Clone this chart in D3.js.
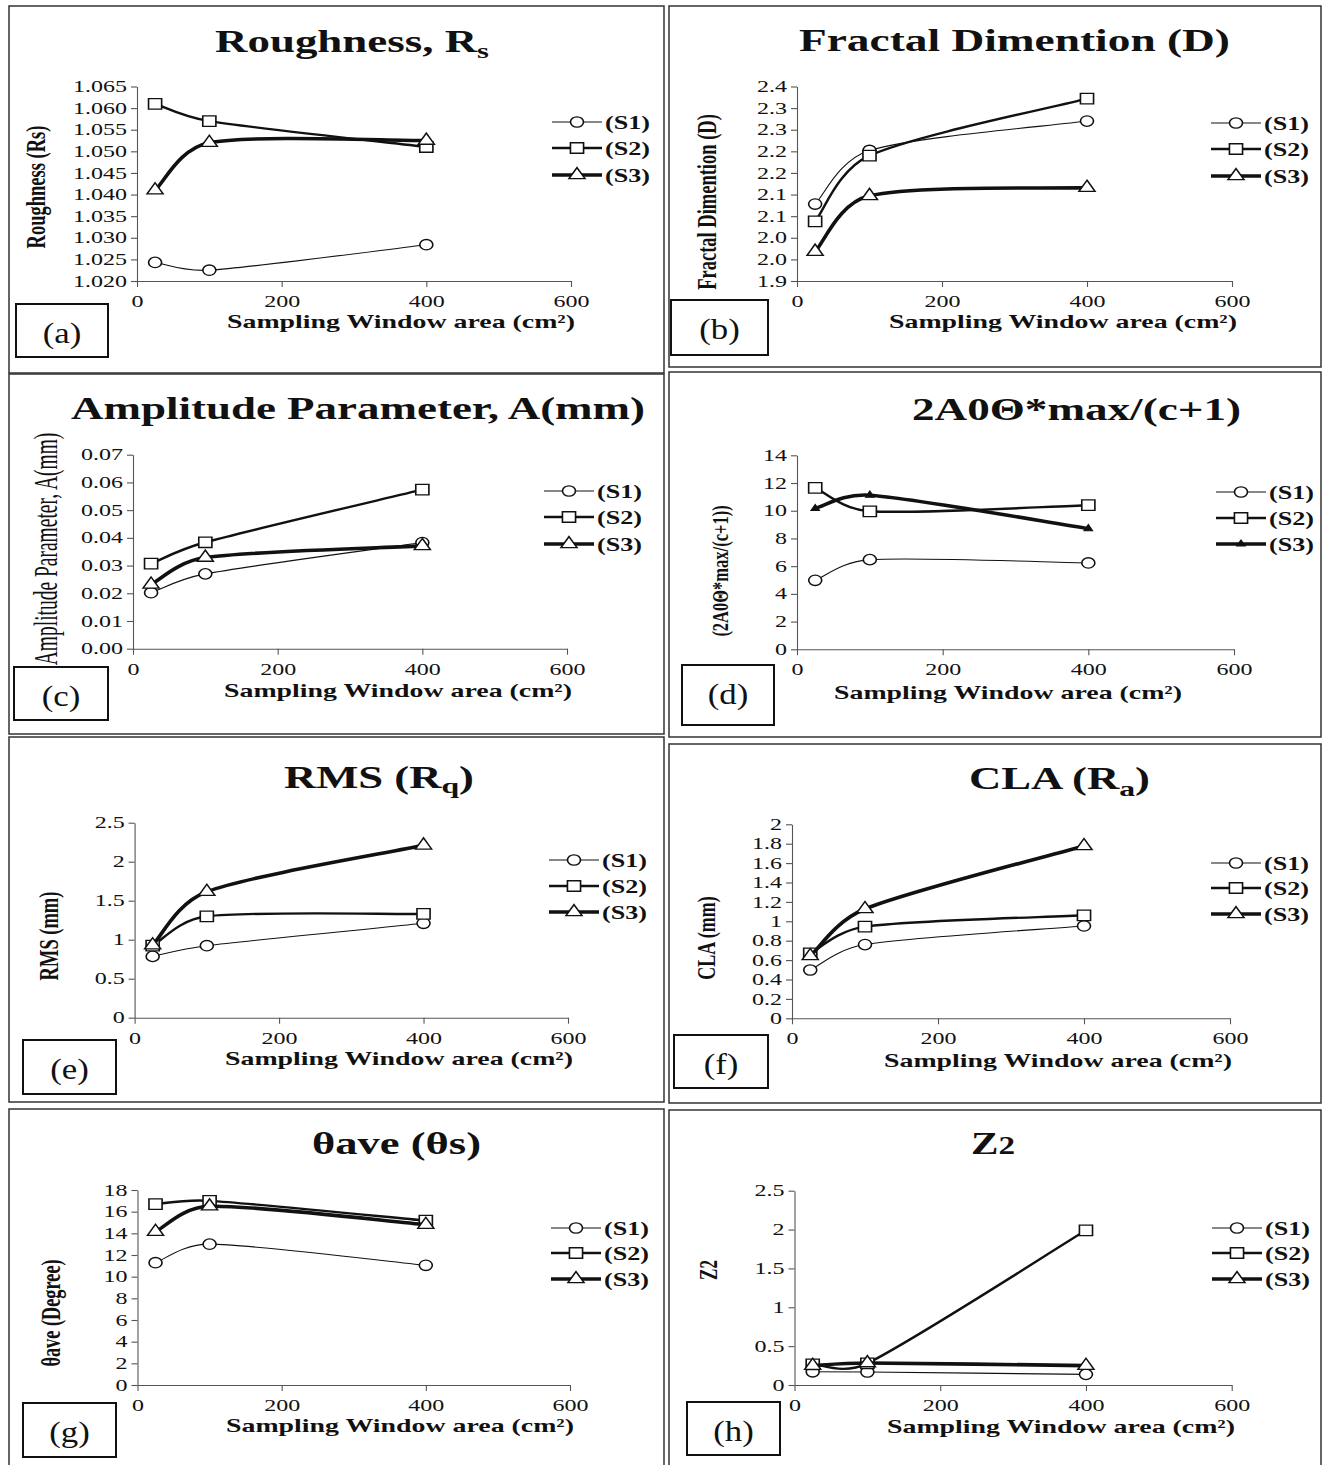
<!DOCTYPE html>
<html>
<head>
<meta charset="utf-8">
<script src="https://cdn.jsdelivr.net/npm/d3@7"></script>
<style>
  body { margin: 0; background: #fff; }
  svg text { font-family: "Liberation Serif", "Times New Roman", serif; fill: #111; }
</style>
</head>
<body>
<div id="chart"></div>
<script>
// shared categories
const areas = [25, 100, 400];
const seriesNames = ["(S1)", "(S2)", "(S3)"];
const xTicks = [0, 200, 400, 600];
const xTitle = "Sampling Window area (cm\u00b2)";

// (a) roughness
const roughS1 = [1.0243, 1.0225, 1.0284];
const roughS2 = [1.0610, 1.0570, 1.0510];
const roughS3 = [1.0410, 1.0520, 1.0525];
const roughTicks = [1.020, 1.025, 1.030, 1.035, 1.040, 1.045, 1.050, 1.055, 1.060, 1.065];
const roughLabels = ["1.020", "1.025", "1.030", "1.035", "1.040", "1.045", "1.050", "1.055", "1.060", "1.065"];

// (b) fractal dimension
const fracS1 = [2.078, 2.202, 2.270];
const fracS2 = [2.038, 2.190, 2.322];
const fracS3 = [1.968, 2.097, 2.116];
const fracTicks = [1.9, 1.95, 2.0, 2.05, 2.1, 2.15, 2.2, 2.25, 2.3, 2.35];
const fracLabels = ["1.9", "2.0", "2.0", "2.1", "2.1", "2.2", "2.2", "2.3", "2.3", "2.4"];

// (c) amplitude parameter
const ampS1 = [0.0202, 0.0270, 0.0383];
const ampS2 = [0.0307, 0.0384, 0.0574];
const ampS3 = [0.0232, 0.0329, 0.0371];
const ampTicks = [0, 0.01, 0.02, 0.03, 0.04, 0.05, 0.06, 0.07];
const ampLabels = ["0.00", "0.01", "0.02", "0.03", "0.04", "0.05", "0.06", "0.07"];

// (d) 2A0Θ*max/(c+1)
const thmS1 = [4.98, 6.47, 6.23];
const thmS2 = [11.65, 9.96, 10.40];
const thmS3 = [10.16, 11.12, 8.71];
const thmTicks = [0, 2, 4, 6, 8, 10, 12, 14];
const thmLabels = ["0", "2", "4", "6", "8", "10", "12", "14"];

// (e) RMS
const rmsS1 = [0.786, 0.923, 1.21];
const rmsS2 = [0.923, 1.30, 1.33];
const rmsS3 = [0.93, 1.615, 2.21];
const rmsTicks = [0, 0.5, 1, 1.5, 2, 2.5];
const rmsLabels = ["0", "0.5", "1", "1.5", "2", "2.5"];

// (f) CLA
const claS1 = [0.498, 0.76, 0.952];
const claS2 = [0.67, 0.945, 1.062];
const claS3 = [0.643, 1.127, 1.777];
const claTicks = [0, 0.2, 0.4, 0.6, 0.8, 1, 1.2, 1.4, 1.6, 1.8, 2];
const claLabels = ["0", "0.2", "0.4", "0.6", "0.8", "1", "1.2", "1.4", "1.6", "1.8", "2"];

// (g) θave
const aveS1 = [11.29, 13.0, 11.05];
const aveS2 = [16.7, 17.0, 15.17];
const aveS3 = [14.15, 16.5, 14.8];
const aveTicks = [0, 2, 4, 6, 8, 10, 12, 14, 16, 18];
const aveLabels = ["0", "2", "4", "6", "8", "10", "12", "14", "16", "18"];

// (h) Z2
const z2S1 = [0.17, 0.167, 0.137];
const z2S2 = [0.266, 0.279, 1.99];
const z2S3 = [0.249, 0.283, 0.249];
const z2Ticks = [0, 0.5, 1, 1.5, 2, 2.5];
const z2Labels = ["0", "0.5", "1", "1.5", "2", "2.5"];

const W = 1325, H = 1465;
const SX = 1.45;      // the source figure is stretched sideways
const SXT = 1.5;      // tick labels
const lineW = [1.1, 2.4, 3.6];

const panels = [
  { tag: "(a)", border: [9, 6, 655, 367], x0: 137, x1: 571, yTop: 86.5, yBot: 281,
    ticks: roughTicks, labels: roughLabels, series: [roughS1, roughS2, roughS3],
    title: ["Roughness, R", "s", ""], subDy: 6, subSize: 21, titleX: 215, titleY: 52, titleW: 274,
    yTitle: "Roughness (Rs)", ytX: 45, ytY: 187, ytSize: 18.5, ytBold: true,
    xtX: 401, xtY: 328, legX: 552, legY: [122, 148, 175], box: [16, 304, 92, 53] },
  { tag: "(b)", border: [669, 6, 652, 361], x0: 797, x1: 1232, yTop: 86.5, yBot: 281,
    ticks: fracTicks, labels: fracLabels, series: [fracS1, fracS2, fracS3],
    title: ["Fractal Dimention (D)"], titleX: 799, titleY: 51, titleW: 431,
    yTitle: "Fractal Dimention (D)", ytX: 716, ytY: 202, ytSize: 18.5, ytBold: true,
    xtX: 1063, xtY: 328, legX: 1211, legY: [123, 149, 176], box: [671, 300, 97, 55] },
  { tag: "(c)", border: [9, 374, 655, 360], x0: 133, x1: 567, yTop: 454.7, yBot: 648.7,
    ticks: ampTicks, labels: ampLabels, series: [ampS1, ampS2, ampS3],
    title: ["Amplitude Parameter, A(mm)"], titleX: 71, titleY: 419, titleW: 574,
    yTitle: "Amplitude Parameter, A(mm)", ytX: 57, ytY: 549, ytSize: 19.5, ytBold: false, ytSX: 1.7,
    xtX: 398, xtY: 697, legX: 544, legY: [491, 517, 544], box: [14, 667, 94, 53] },
  { tag: "(d)", border: [669, 372, 652, 365], x0: 797, x1: 1234, yTop: 455.3, yBot: 649.3,
    ticks: thmTicks, labels: thmLabels, series: [thmS1, thmS2, thmS3], smallS3: true,
    title: ["2A0\u0398*max/(c+1)"], titleX: 912, titleY: 420, titleW: 329,
    yTitle: "(2A0\u0398*max/(c+1))", ytX: 728, ytY: 571, ytSize: 16.5, ytBold: true,
    xtX: 1008, xtY: 699, legX: 1216, legY: [492, 518, 544], box: [682, 665, 92, 60] },
  { tag: "(e)", border: [9, 737, 655, 365], x0: 134.6, x1: 568, yTop: 822.7, yBot: 1017.7,
    ticks: rmsTicks, labels: rmsLabels, series: [rmsS1, rmsS2, rmsS3],
    title: ["RMS (R", "q", ")"], subDy: 5, subSize: 22, titleX: 284, titleY: 788, titleW: 190,
    yTitle: "RMS (mm)", ytX: 58, ytY: 936, ytSize: 18.5, ytBold: true,
    xtX: 399, xtY: 1065, legX: 549, legY: [860, 886, 912], box: [23, 1040, 93, 54] },
  { tag: "(f)", border: [669, 744, 652, 359], x0: 792, x1: 1230, yTop: 824.3, yBot: 1018.3,
    ticks: claTicks, labels: claLabels, series: [claS1, claS2, claS3],
    title: ["CLA (R", "a", ")"], subDy: 7, subSize: 22, titleX: 969, titleY: 789, titleW: 181,
    yTitle: "CLA (mm)", ytX: 715, ytY: 938, ytSize: 18, ytBold: true,
    xtX: 1058, xtY: 1067, legX: 1211, legY: [863, 888, 914], box: [674, 1035, 94, 53] },
  { tag: "(g)", border: [9, 1109, 655, 370], x0: 137.5, x1: 570, yTop: 1190, yBot: 1385,
    ticks: aveTicks, labels: aveLabels, series: [aveS1, aveS2, aveS3],
    title: ["\u03b8ave (\u03b8s)"], titleX: 312, titleY: 1154, titleW: 169,
    yTitle: "\u03b8ave (Degree)", ytX: 60, ytY: 1313, ytSize: 18.3, ytBold: true,
    xtX: 400, xtY: 1432, legX: 551, legY: [1228, 1253, 1279], box: [23, 1403, 93, 54] },
  { tag: "(h)", border: [669, 1110, 652, 370], x0: 794.5, x1: 1231.7, yTop: 1190.7, yBot: 1385,
    ticks: z2Ticks, labels: z2Labels, series: [z2S1, z2S2, z2S3],
    title: ["Z", "2", ""], subDy: 0, subSize: 25, titleX: 971, titleY: 1154, titleW: 44,
    yTitle: "Z2", ytX: 717, ytY: 1270, ytSize: 17, ytBold: true,
    xtX: 1061, xtY: 1433, legX: 1212, legY: [1228, 1253, 1279], box: [687, 1402, 93, 53] }
];

// spreadsheet-style smooth line: Catmull-Rom tangents, shortened next to short segments
function smoothCurve(context) {
  let pts;
  const dist = (a, b) => Math.hypot(b[0] - a[0], b[1] - a[1]);
  return {
    areaStart() {}, areaEnd() {},
    lineStart() { pts = []; },
    point(x, y) { pts.push([+x, +y]); },
    lineEnd() {
      const n = pts.length;
      if (!n) return;
      context.moveTo(pts[0][0], pts[0][1]);
      if (n < 3) { if (n === 2) context.lineTo(pts[1][0], pts[1][1]); return; }
      const tan = pts.map((p, i) => {
        const a = pts[Math.max(i - 1, 0)], b = pts[Math.min(i + 1, n - 1)];
        return [(b[0] - a[0]) / 6, (b[1] - a[1]) / 6];
      });
      const limit = (k, seg) => {
        const prev = k > 0 ? dist(pts[k - 1], pts[k]) : seg;
        const next = k < n - 1 ? dist(pts[k], pts[k + 1]) : seg;
        return Math.min(1, Math.pow(2 * seg / (prev + next), 0.6));
      };
      for (let i = 0; i < n - 1; i++) {
        const p = pts[i], q = pts[i + 1], seg = dist(p, q);
        const f0 = limit(i, seg), f1 = limit(i + 1, seg);
        context.bezierCurveTo(
          p[0] + tan[i][0] * f0, p[1] + tan[i][1] * f0,
          q[0] - tan[i + 1][0] * f1, q[1] - tan[i + 1][1] * f1,
          q[0], q[1]);
      }
    }
  };
}

const svg = d3.select("#chart").append("svg")
  .attr("width", W).attr("height", H)
  .style("display", "block");

const symbols = [d3.symbolCircle, d3.symbolSquare, d3.symbolTriangle];
const symSize = [85, 110, 72];

function marker(g, i, x, y, small) {
  if (i === 2 && small) {
    g.append("path")
      .attr("d", d3.symbol(d3.symbolTriangle, 22)())
      .attr("transform", `translate(${x},${y}) scale(1.2,1)`)
      .attr("fill", "#111").attr("stroke", "#111").attr("stroke-width", 1);
    return;
  }
  g.append("path")
    .attr("d", d3.symbol(symbols[i], symSize[i])())
    .attr("transform", `translate(${x},${y}) scale(1.25,1)`)
    .attr("fill", "#fff").attr("stroke", "#111").attr("stroke-width", 1.3);
}

function drawPanel(p) {
  const g = svg.append("g");
  const [bx, by, bw, bh] = p.border;
  g.append("rect").attr("x", bx).attr("y", by).attr("width", bw).attr("height", bh)
    .attr("fill", "none").attr("stroke", "#333").attr("stroke-width", 1.5);

  const x = d3.scaleLinear().domain([0, 600]).range([p.x0, p.x1]);
  const y = d3.scaleLinear().domain([p.ticks[0], p.ticks[p.ticks.length - 1]]).range([p.yBot, p.yTop]);

  // axes
  const yAxis = d3.axisLeft(y).tickValues(p.ticks).tickSize(6).tickSizeOuter(0)
    .tickFormat((d, i) => p.labels[i]);
  const xAxis = d3.axisBottom(x).tickValues(xTicks).tickSize(6).tickSizeOuter(0)
    .tickFormat(d3.format("d"));

  const ga = g.append("g").attr("transform", `translate(${p.x0},0)`).call(yAxis);
  const gb = g.append("g").attr("transform", `translate(0,${p.yBot})`).call(xAxis);
  [ga, gb].forEach(a => {
    a.select(".domain").attr("stroke", "#555").attr("stroke-width", 1.1);
    a.selectAll(".tick line").attr("stroke", "#555").attr("stroke-width", 1.1);
    a.selectAll("text").attr("font-size", 16).attr("fill", "#111")
      .style("font-family", '"Liberation Serif", serif');
  });
  ga.selectAll("text").attr("x", -10 / SXT).attr("transform", `scale(${SXT},1)`);
  gb.selectAll("text").attr("y", 26).attr("dy", null).attr("transform", `scale(${SXT},1)`);

  // series
  const line = d3.line()
    .x(d => x(d[0])).y(d => y(d[1]))
    .curve(smoothCurve);
  p.series.forEach((vals, i) => {
    const pts = areas.map((a, k) => [a, vals[k]]);
    g.append("path").attr("d", line(pts))
      .attr("fill", "none").attr("stroke", "#111")
      .attr("stroke-width", lineW[i]).attr("stroke-linejoin", "round");
    pts.forEach(d => marker(g, i, x(d[0]), y(d[1]), p.smallS3));
  });

  // legend
  seriesNames.forEach((name, i) => {
    const ly = p.legY[i];
    g.append("line").attr("x1", p.legX).attr("x2", p.legX + 50)
      .attr("y1", ly).attr("y2", ly)
      .attr("stroke", "#111").attr("stroke-width", lineW[i]);
    marker(g, i, p.legX + 25, ly, p.smallS3);
    g.append("text").text(name)
      .attr("transform", `translate(${p.legX + 53},${ly + 6.5}) scale(${SX},1)`)
      .attr("font-size", 18).attr("font-weight", "bold");
  });

  // title
  const t = g.append("text")
    .attr("x", p.titleX).attr("y", p.titleY)
    .attr("font-size", 31).attr("font-weight", "bold")
    .attr("textLength", p.titleW).attr("lengthAdjust", "spacingAndGlyphs");
  t.append("tspan").text(p.title[0]);
  if (p.title.length > 1) {
    t.append("tspan").text(p.title[1]).attr("font-size", p.subSize).attr("dy", p.subDy);
    if (p.title[2]) t.append("tspan").text(p.title[2]).attr("font-size", 31).attr("dy", -p.subDy);
  }

  // axis titles
  g.append("text").text(xTitle)
    .attr("x", p.xtX - 174).attr("y", p.xtY)
    .attr("font-size", 19.5).attr("font-weight", "bold")
    .attr("textLength", 348).attr("lengthAdjust", "spacingAndGlyphs");

  g.append("text").text(p.yTitle)
    .attr("transform", `translate(${p.ytX},${p.ytY}) scale(${p.ytSX || SX},1) rotate(-90)`)
    .attr("text-anchor", "middle")
    .attr("font-size", p.ytSize).attr("font-weight", p.ytBold ? "bold" : "normal");

  // panel letter box
  const [lx, ly, lw, lh] = p.box;
  g.append("rect").attr("x", lx).attr("y", ly).attr("width", lw).attr("height", lh)
    .attr("fill", "#fff").attr("stroke", "#111").attr("stroke-width", 2);
  g.append("text").text(p.tag)
    .attr("transform", `translate(${lx + lw / 2},${ly + 39}) scale(1.2,1)`)
    .attr("text-anchor", "middle").attr("font-size", 29);
}

panels.forEach(drawPanel);
</script>
</body>
</html>
